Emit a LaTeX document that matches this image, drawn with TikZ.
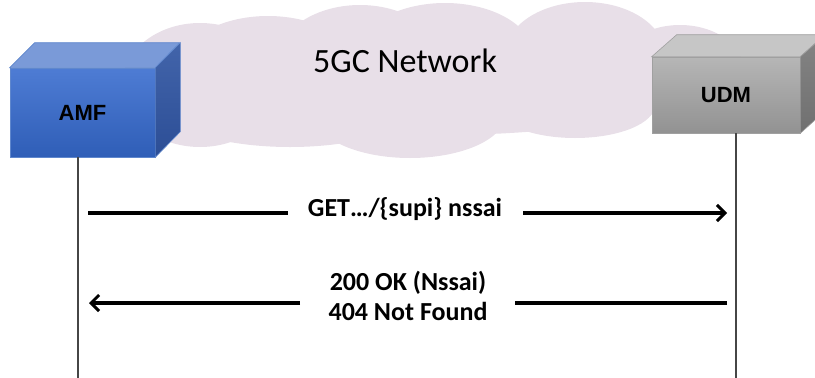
\documentclass[tikz,border=0pt]{standalone}
\usepackage{fontspec}
\setmainfont{Carlito}
\newfontfamily\arialfont{Liberation Sans}
\usetikzlibrary{arrows.meta}
\definecolor{cloudc}{RGB}{232,223,232}
\definecolor{amftop}{RGB}{78,124,212}
\definecolor{amfbot}{RGB}{47,94,183}
\definecolor{amfroof}{RGB}{122,154,216}
\definecolor{amfside1}{RGB}{66,100,170}
\definecolor{amfside2}{RGB}{44,78,150}
\definecolor{amfedge}{RGB}{95,135,205}
\definecolor{udmtop}{RGB}{182,182,182}
\definecolor{udmbot}{RGB}{146,146,146}
\definecolor{udmroof}{RGB}{198,198,198}
\definecolor{udmside1}{RGB}{132,132,132}
\definecolor{udmside2}{RGB}{112,112,112}
\definecolor{udmedge}{RGB}{160,160,160}
\definecolor{lifec}{RGB}{70,70,70}
\tikzset{
  nffront/.style={rectangle, inner sep=0pt, font=\arialfont\bfseries\fontsize{22}{26}\selectfont},
  lifeline/.style={draw=lifec, line width=1.1pt},
  msgline/.style={line width=3.2pt, black},
  msgarrow/.style={msgline, -{Straight Barb[length=8pt,width=16pt,line width=3pt]}},
  msgtext/.style={inner sep=0pt, font=\bfseries\fontsize{26}{30}\selectfont, align=center},
}
\begin{document}
\begin{tikzpicture}[x=1pt,y=-1pt]
\useasboundingbox (0,0) rectangle (815,378);
% cloud
\begin{scope}
\fill[cloudc] (200,85) ellipse [x radius=78, y radius=62];
\fill[cloudc] (268,70) ellipse [x radius=90, y radius=54];
\fill[cloudc] (360,65) ellipse [x radius=85, y radius=60];
\fill[cloudc] (445,55) ellipse [x radius=88, y radius=52];
\fill[cloudc] (585,55) ellipse [x radius=80, y radius=53];
\fill[cloudc] (680,72) ellipse [x radius=65, y radius=47];
\fill[cloudc] (290,110) ellipse [x radius=120, y radius=37];
\fill[cloudc] (410,115) ellipse [x radius=95, y radius=43];
\fill[cloudc] (575,105) ellipse [x radius=80, y radius=33];
\fill[cloudc] (620,90) ellipse [x radius=42, y radius=25];
\fill[cloudc] (440,85) ellipse [x radius=250, y radius=50];
\end{scope}
\node[font=\fontsize{34}{40}\selectfont, anchor=base] (net) at (405,72) {5GC Network};
% AMF box
\node[nffront, minimum width=145pt, minimum height=89pt, top color=amftop, bottom color=amfbot, draw=amfedge, line width=0.6pt] (amf) at (82.5,112.5) {AMF};
\fill[amfroof, draw=amfedge, line width=0.6pt] (amf.north west) -- ++(25,-25) -- ++(145,0) -- (amf.north east) -- cycle;
\shade[top color=amfside1, bottom color=amfside2, draw=amfedge, line width=0.6pt] (amf.north east) -- ++(25,-25) -- ++(0,89) -- (amf.south east) -- cycle;
% UDM box
\node[nffront, minimum width=148pt, minimum height=76pt, top color=udmtop, bottom color=udmbot, draw=udmedge, line width=0.6pt] (udm) at (726,95) {UDM};
\fill[udmroof, draw=udmedge, line width=0.6pt] (udm.north west) -- ++(25,-22) -- ++(148,0) -- (udm.north east) -- cycle;
\shade[top color=udmside1, bottom color=udmside2, draw=udmedge, line width=0.6pt] (udm.north east) -- ++(25,-22) -- ++(0,76) -- (udm.south east) -- cycle;
% lifelines
\coordinate (amfend) at (78,378);
\coordinate (udmend) at (736,378);
\draw[lifeline] (amf.south -| amfend) -- (amfend);
\draw[lifeline] (udm.south -| udmend) -- (udmend);
% message 1
\coordinate (a1) at (88,213);
\coordinate (b1) at (727,213);
\node[msgtext, anchor=base] (t1) at (405,216) {GET…/\{supi\} nssai};
\coordinate (g1l) at (288,213);
\coordinate (g1r) at (523,213);
\draw[msgline] (a1) -- (g1l);
\draw[msgarrow] (g1r) -- (b1);
% message 2
\coordinate (a2) at (89,303);
\coordinate (b2) at (727,303);
\node[msgtext] (t2) at (408,296) {200 OK (Nssai)\\404 Not Found};
\coordinate (g2l) at (300,303);
\coordinate (g2r) at (515,303);
\draw[msgline] (b2) -- (g2r);
\draw[msgarrow] (g2l) -- (a2);
\end{tikzpicture}
\end{document}
